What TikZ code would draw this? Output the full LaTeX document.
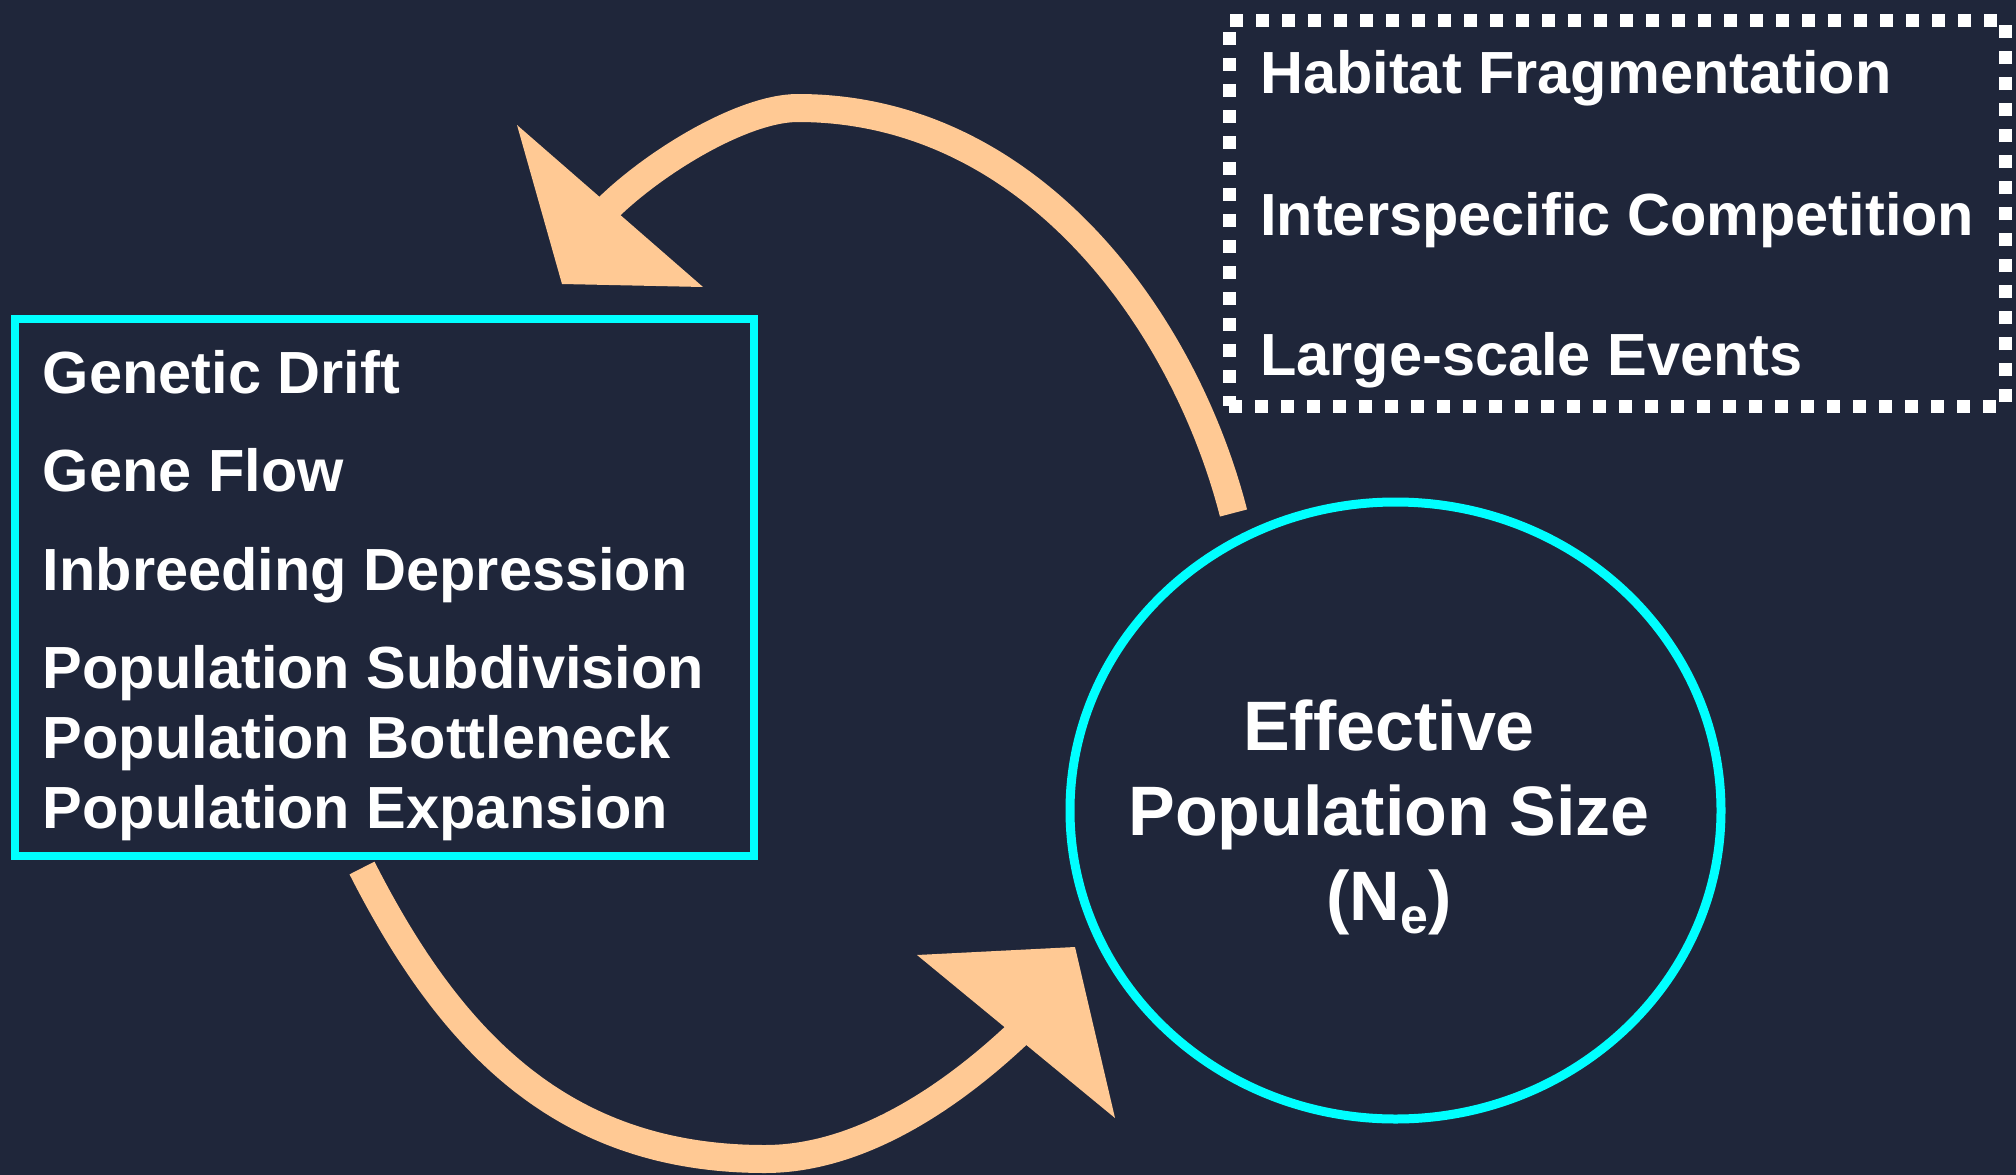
\documentclass[tikz,border=0pt]{standalone}
\usepackage{fontspec}
\setmainfont{Liberation Sans}
\usetikzlibrary{shapes.geometric}
\definecolor{bg}{HTML}{1F263A}
\definecolor{peach}{HTML}{FFC994}
\definecolor{cyanline}{HTML}{00FFFF}
\begin{document}
\begin{tikzpicture}[x=1pt,y=-1pt,
  lbl/.style={text=white, font=\bfseries\fontsize{59.5}{60}\selectfont, inner sep=0pt, anchor=base west},
  big/.style={text=white, font=\bfseries\fontsize{70}{70}\selectfont, inner sep=0pt, anchor=base},
  shaft/.style={draw=peach, line width=28pt},
  head/.style={fill=peach},
]
\fill[bg] (0,0) rectangle (2016,1175);
\useasboundingbox (0,0) rectangle (2016,1175);

% containers
\node[draw=cyanline, line width=8pt, minimum width=738.5pt, minimum height=537pt, inner sep=0pt] (factors) at (384.25,587.5) {};
\node[ellipse, draw=cyanline, line width=9pt, minimum width=651pt, minimum height=617pt, inner sep=0pt] (ne) at (1395.5,810.5) {};
\node[draw=white, line width=13pt, dash pattern=on 13pt off 13pt, minimum width=776pt, minimum height=386pt, inner sep=0pt] (threats) at (1617,213) {};

% left box texts
\node[lbl] (gd) at (42.7,393) {Genetic Drift};
\node[lbl] (gf) at (42.7,491.5) {Gene Flow};
\node[lbl] (id) at (42.7,590) {Inbreeding Depression};
\node[lbl] (ps) at (42.7,688.5) {Population Subdivision};
\node[lbl] (pb) at (42.7,758.5) {Population Bottleneck};
\node[lbl] (pe) at (42.7,828.5) {Population Expansion};

% dotted box texts
\node[lbl] (hf) at (1260,93) {Habitat Fragmentation};
\node[lbl] (ic) at (1260,235) {Interspecific Competition};
\node[lbl] (le) at (1260,375) {Large-scale Events};

% circle text
\node[big] (ne1) at (1389,750) {Effective};
\node[big] (ne2) at (1389,835) {Population Size};
\node[big] (ne3) at (1389,920) {(N\raisebox{-13pt}{\fontsize{50}{50}\selectfont e})};

% top arrow: circle -> left box
\coordinate (a1s) at (1233.5,513);
\coordinate (a1top) at (798,108);
\coordinate (a1e) at (600,216);
\coordinate (h1tip) at (517,125);
\coordinate (h1l) at (562,284);
\coordinate (h1r) at (703,287);
\draw[shaft] (a1s) .. controls (1183.5,319) and (1030,108) .. (a1top)
  .. controls (740,108) and (645,168) .. (a1e);
\fill[head] (h1tip) -- (h1l) -- (h1r) -- cycle;

% bottom arrow: left box -> circle
\coordinate (a2s) at (362,868);
\coordinate (a2bot) at (765,1159);
\coordinate (a2e) at (1026,1026);
\coordinate (h2l) at (917,955);
\coordinate (h2r) at (1075,947);
\coordinate (h2tip) at (1115,1118);
\draw[shaft] (a2s) .. controls (452,1045) and (565,1159) .. (a2bot)
  .. controls (865,1159) and (960,1090) .. (a2e);
\fill[head] (h2l) -- (h2r) -- (h2tip) -- cycle;
\end{tikzpicture}
\end{document}
